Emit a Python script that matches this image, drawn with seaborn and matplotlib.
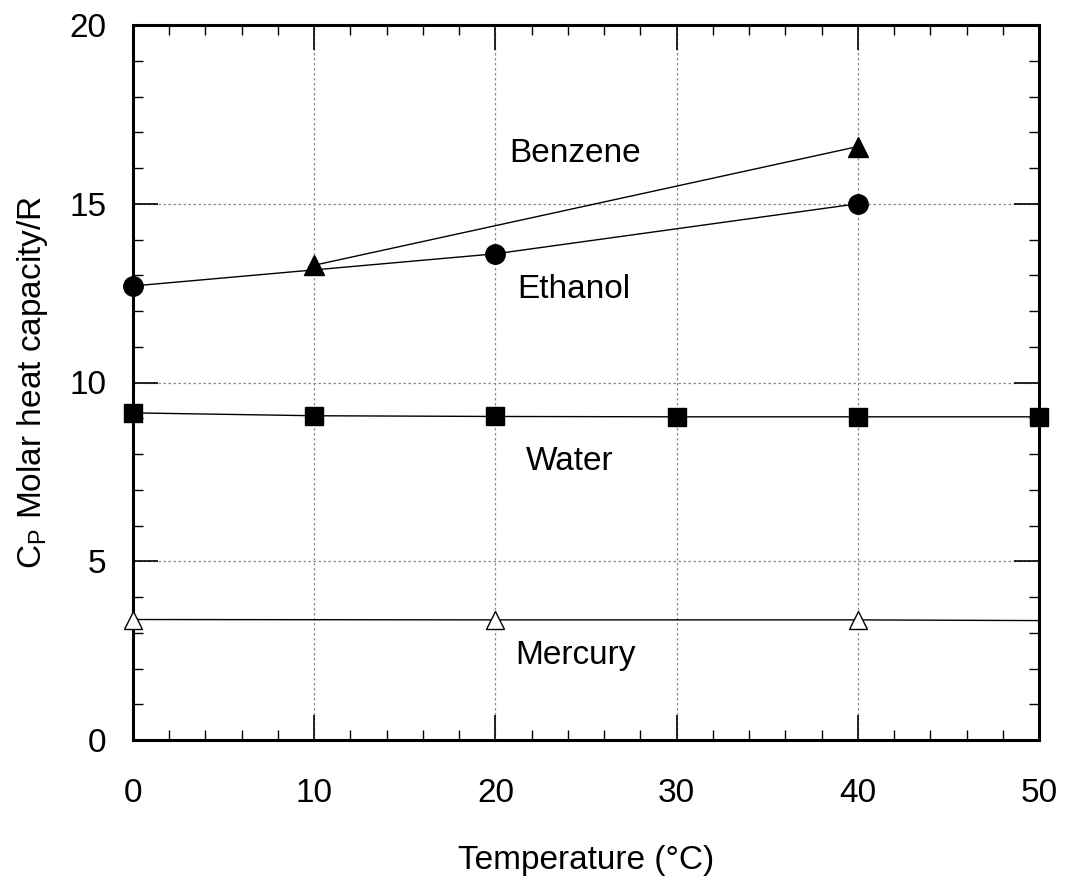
import numpy as np
import pandas as pd
import matplotlib
matplotlib.use("Agg")
import matplotlib.pyplot as plt
from matplotlib.ticker import MultipleLocator
import seaborn as sns

# Molar heat capacity Cp/R of some liquids vs temperature (°C)
benzene_t = [10, 40]
benzene_cp = [13.28, 16.6]

ethanol_t = [0, 20, 40]
ethanol_cp = [12.7, 13.6, 15.0]

water_t = [0, 10, 20, 30, 40, 50]
water_cp = [9.15, 9.07, 9.05, 9.04, 9.04, 9.04]

mercury_t = [0, 20, 40, 50]
mercury_cp = [3.37, 3.36, 3.36, 3.34]
mercury_marked = [0, 1, 2]

labels = {"Benzene": (24.4, 16.4), "Ethanol": (24.35, 12.6),
          "Water": (24.1, 7.8), "Mercury": (24.4, 2.35)}

sns.set_style("ticks")
plt.rcParams["font.family"] = ["Liberation Sans", "DejaVu Sans"]
plt.rcParams["mathtext.fontset"] = "custom"
plt.rcParams["mathtext.rm"] = "Liberation Sans"
plt.rcParams["mathtext.it"] = "Liberation Sans"
plt.rcParams["text.color"] = "black"
plt.rcParams["axes.labelcolor"] = "black"
plt.rcParams["xtick.color"] = "black"
plt.rcParams["ytick.color"] = "black"

fig = plt.figure(figsize=(10.65, 8.76), dpi=100)
ax = fig.add_axes([133 / 1065, 1 - 740 / 876, (1039 - 133) / 1065, (740 - 25) / 876])

def series(t, cp, marker, ms, face, every=None):
    df = pd.DataFrame({"t": t, "cp": cp})
    sns.lineplot(data=df, x="t", y="cp", ax=ax, color="black", lw=1.0,
                 marker=marker, markersize=ms, markerfacecolor=face,
                 markeredgecolor="black", markeredgewidth=1.0,
                 markevery=every, zorder=3, clip_on=False)

series(benzene_t, benzene_cp, "^", 14, "black")
series(ethanol_t, ethanol_cp, "o", 14, "black")
series(water_t, water_cp, "s", 13, "black")
series(mercury_t, mercury_cp, "^", 13, "white", every=mercury_marked)

for name, (x, y) in labels.items():
    ax.text(x, y, name, ha="center", va="center", fontsize=24)

ax.set_xlim(0, 50)
ax.set_ylim(0, 20)
ax.xaxis.set_major_locator(MultipleLocator(10))
ax.xaxis.set_minor_locator(MultipleLocator(2))
ax.yaxis.set_major_locator(MultipleLocator(5))
ax.yaxis.set_minor_locator(MultipleLocator(1))
ax.grid(True, which="major", color="#8a8a8a", ls=(0, (2, 2)), lw=0.9)

for s in ax.spines.values():
    s.set_visible(True)
    s.set_linewidth(2.2)
    s.set_color("black")

ax.tick_params(which="both", direction="in", top=True, right=True, labelsize=24)
ax.tick_params(axis="x", which="both", pad=27)
ax.tick_params(axis="y", which="both", pad=19)
ax.tick_params(which="major", length=18, width=1.2)
ax.tick_params(which="minor", length=7, width=1.0)

ax.set_xlabel("Temperature (°C)", fontsize=24, labelpad=26)
ax.set_ylabel(r"C$_\mathrm{P}$ Molar heat capacity/R", fontsize=24, labelpad=14)

fig.savefig("out.png", dpi=100)
